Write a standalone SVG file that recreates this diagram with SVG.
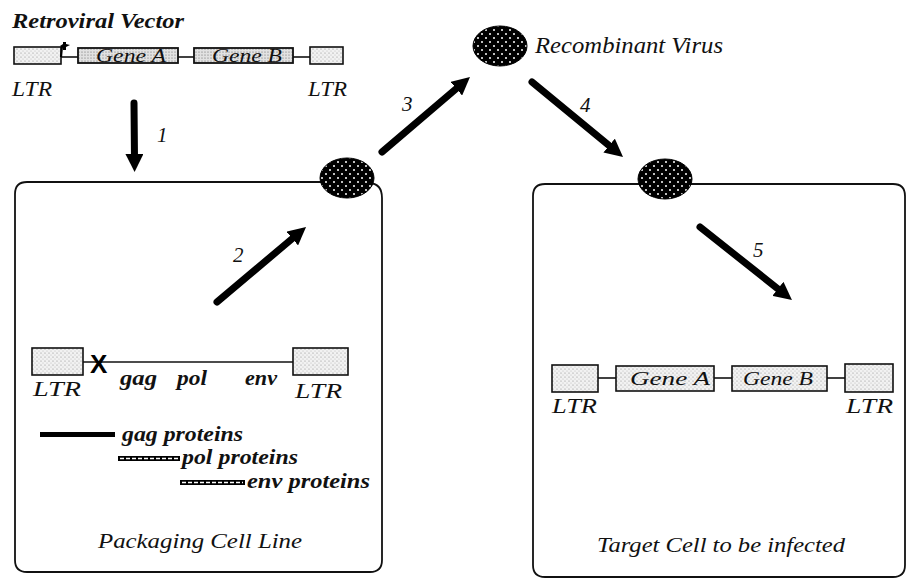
<svg xmlns="http://www.w3.org/2000/svg" width="908" height="581" viewBox="0 0 908 581">
  <style>
    .t { font-family: "Liberation Serif", "Times New Roman", serif; font-style: italic; fill: #111; }
    .b { font-weight: bold; }
    .box { stroke: #111; stroke-width: 1.6; fill: url(#stip); }
    .boxd { stroke: #111; stroke-width: 1.8; fill: url(#stipDark); }
    .wire { stroke: #111; stroke-width: 1.6; fill: none; }
    .cell { stroke: #111; stroke-width: 1.8; fill: none; }
    .arrow { stroke: #000; stroke-width: 7; fill: none; stroke-linecap: round; marker-end: url(#head); }
    .virus { fill: url(#virusDots); stroke: #000; stroke-width: 1; }
    .hatch { stroke: #fff; stroke-width: 1.4; stroke-dasharray: 4 2; }
  </style>
  <defs>
    <pattern id="stip" width="4" height="4" patternUnits="userSpaceOnUse">
      <rect width="4" height="4" fill="#f2f2f2"/>
      <circle cx="1" cy="1" r="0.6" fill="#8a8a8a"/>
      <circle cx="3" cy="3" r="0.5" fill="#b0b0b0"/>
    </pattern>
    <pattern id="stipDark" width="3" height="3" patternUnits="userSpaceOnUse">
      <rect width="3" height="3" fill="#e2e2e2"/>
      <circle cx="1" cy="1" r="0.6" fill="#666"/>
    </pattern>
    <pattern id="virusDots" width="8" height="8" patternUnits="userSpaceOnUse">
      <rect width="8" height="8" fill="#000"/>
      <circle cx="2" cy="2" r="1" fill="#fff"/>
      <circle cx="6" cy="6" r="1" fill="#fff"/>
    </pattern>
    <marker id="head" viewBox="0 0 10 10" refX="3" refY="5" markerWidth="18" markerHeight="18" markerUnits="userSpaceOnUse" orient="auto">
      <path d="M0,0 L10,5 L0,10 z" fill="#000"/>
    </marker>
  </defs>

  <rect width="908" height="581" fill="#fff"/>

  <!-- Retroviral vector -->
  <g id="retroviral-vector">
    <text class="t b" x="12" y="28" font-size="22" textLength="172" lengthAdjust="spacingAndGlyphs">Retroviral Vector</text>
    <line class="wire" x1="61" y1="57" x2="78" y2="57"/>
    <line class="wire" x1="178" y1="57" x2="194" y2="57"/>
    <line class="wire" x1="293" y1="57" x2="310" y2="57"/>
    <rect class="box" x="14" y="47" width="47" height="17"/>
    <rect class="boxd" x="78" y="48" width="100" height="15"/>
    <rect class="boxd" x="194" y="48" width="99" height="15"/>
    <rect class="box" x="310" y="47" width="33" height="17"/>
    <path d="M61,57 L62,46" stroke="#000" stroke-width="2.2" fill="none"/>
    <path d="M63,42 L66,42 L66,44 L70,45 L66,47 L66,50 L63,50 L63,47 L60,46 L63,44 z" fill="#000"/>
    <text class="t" x="96" y="62" font-size="19" textLength="70" lengthAdjust="spacingAndGlyphs">Gene A</text>
    <text class="t" x="212" y="62" font-size="19" textLength="70" lengthAdjust="spacingAndGlyphs">Gene B</text>
    <text class="t" x="12" y="96" font-size="22" textLength="40" lengthAdjust="spacingAndGlyphs">LTR</text>
    <text class="t" x="308" y="96" font-size="22" textLength="39" lengthAdjust="spacingAndGlyphs">LTR</text>
  </g>

  <!-- Packaging cell line -->
  <g id="packaging-cell">
    <path class="cell" d="M322,182 H27 Q15,182 15,194 V560 Q15,572 27,572 H370 Q382,572 382,560 V198 Q382,184 370,183"/>
    <ellipse id="packaging-virus" class="virus" cx="347" cy="178" rx="27" ry="20"/>
    <line class="wire" x1="83" y1="362" x2="293" y2="362"/>
    <rect class="box" x="32" y="348" width="51" height="27"/>
    <rect class="box" x="293" y="348" width="55" height="27"/>
    <text x="90" y="373" font-family="Liberation Sans, Arial, sans-serif" font-weight="bold" font-size="26" fill="#000">X</text>
    <text class="t" x="33" y="396" font-size="22" textLength="48" lengthAdjust="spacingAndGlyphs">LTR</text>
    <text class="t b" x="120" y="385" font-size="21" textLength="37" lengthAdjust="spacingAndGlyphs">gag</text>
    <text class="t b" x="177" y="385" font-size="21" textLength="30" lengthAdjust="spacingAndGlyphs">pol</text>
    <text class="t b" x="245" y="385" font-size="21" textLength="32" lengthAdjust="spacingAndGlyphs">env</text>
    <text class="t" x="295" y="398" font-size="22" textLength="47" lengthAdjust="spacingAndGlyphs">LTR</text>
    <rect x="40" y="432" width="75" height="5" fill="#000"/>
    <text class="t b" x="122" y="441" font-size="20" textLength="121" lengthAdjust="spacingAndGlyphs">gag proteins</text>
    <rect x="118" y="456" width="62" height="5" fill="#000"/>
    <line class="hatch" x1="120" y1="458.5" x2="178" y2="458.5"/>
    <text class="t b" x="182" y="464" font-size="20" textLength="116" lengthAdjust="spacingAndGlyphs">pol proteins</text>
    <rect x="180" y="480" width="65" height="5" fill="#000"/>
    <line class="hatch" x1="182" y1="482.5" x2="243" y2="482.5"/>
    <text class="t b" x="247" y="488" font-size="20" textLength="123" lengthAdjust="spacingAndGlyphs">env proteins</text>
    <text class="t" x="98" y="548" font-size="22" textLength="204" lengthAdjust="spacingAndGlyphs">Packaging Cell Line</text>
  </g>

  <!-- Recombinant virus -->
  <g id="recombinant-virus">
    <ellipse class="virus" cx="500" cy="46" rx="27" ry="20"/>
    <text class="t" x="535" y="53" font-size="23" textLength="188" lengthAdjust="spacingAndGlyphs">Recombinant Virus</text>
  </g>

  <!-- Target cell -->
  <g id="target-cell">
    <path class="cell" d="M640,184 H545 Q533,184 533,196 V565 Q533,577 545,577 H893 Q905,577 905,565 V196 Q905,184 893,184 H690"/>
    <ellipse id="target-virus" class="virus" cx="665" cy="179" rx="27" ry="20"/>
    <line class="wire" x1="598" y1="378" x2="616" y2="378"/>
    <line class="wire" x1="714" y1="378" x2="732" y2="378"/>
    <line class="wire" x1="827" y1="378" x2="845" y2="378"/>
    <rect class="box" x="552" y="365" width="46" height="27"/>
    <rect class="box" x="616" y="366" width="98" height="25"/>
    <rect class="box" x="732" y="366" width="95" height="25"/>
    <rect class="box" x="845" y="364" width="48" height="28"/>
    <text class="t" x="630" y="385" font-size="19" textLength="80" lengthAdjust="spacingAndGlyphs">Gene A</text>
    <text class="t" x="743" y="385" font-size="19" textLength="70" lengthAdjust="spacingAndGlyphs">Gene B</text>
    <text class="t" x="552" y="413" font-size="22" textLength="45" lengthAdjust="spacingAndGlyphs">LTR</text>
    <text class="t" x="846" y="413" font-size="22" textLength="47" lengthAdjust="spacingAndGlyphs">LTR</text>
    <text class="t" x="597" y="552" font-size="22" textLength="248" lengthAdjust="spacingAndGlyphs">Target Cell to be infected</text>
  </g>

  <!-- Connectors -->
  <g id="connectors">
    <line class="arrow" x1="134" y1="103" x2="134.5" y2="159.4" stroke-width="6"/>
    <line class="arrow" x1="217" y1="302" x2="296.4" y2="235.1"/>
    <line class="arrow" x1="382" y1="152" x2="460.4" y2="85.2"/>
    <line class="arrow" x1="532" y1="82" x2="613.3" y2="149"/>
    <line class="arrow" x1="700" y1="227" x2="782.1" y2="292.2"/>
    <text class="t" x="157" y="142" font-size="21">1</text>
    <text class="t" x="233" y="262" font-size="21">2</text>
    <text class="t" x="402" y="111" font-size="21">3</text>
    <text class="t" x="580" y="112" font-size="21">4</text>
    <text class="t" x="753" y="257" font-size="21">5</text>
  </g>
</svg>
